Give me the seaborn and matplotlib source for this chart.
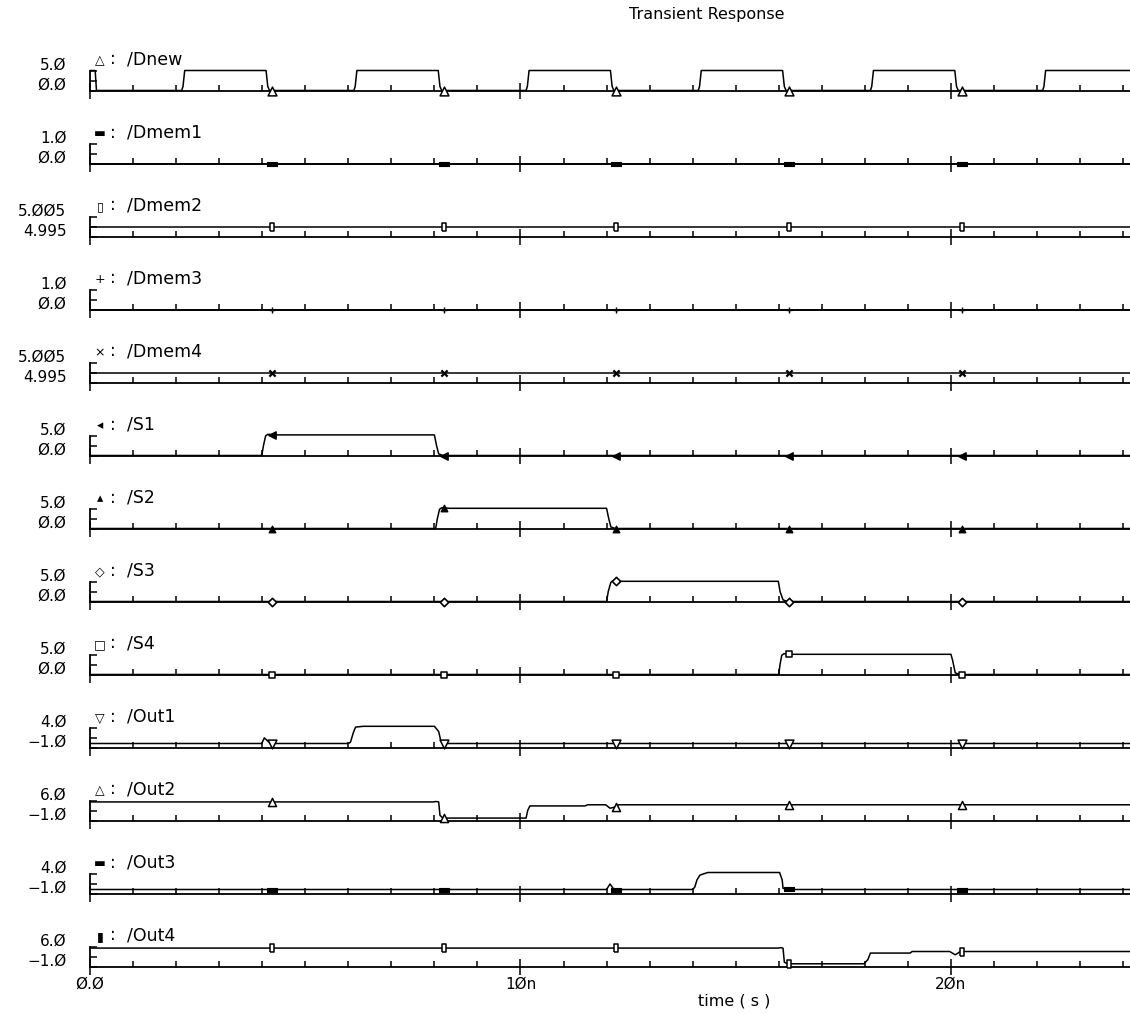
import numpy as np
import pandas as pd
import seaborn as sns
import matplotlib
matplotlib.use("Agg")
import matplotlib.pyplot as plt
from matplotlib.ticker import MultipleLocator, FixedLocator
from matplotlib.transforms import ScaledTranslation

# ---------------- data (time in ns, values in V) ----------------
T_END = 24.16
marker_times = [4.22, 8.22, 12.23, 16.23, 20.25]

Dnew_t = [0.0, 0.12, 0.15, 2.13, 2.16, 2.20, 4.09, 4.13, 4.17, 6.13, 6.16, 6.20,
          8.09, 8.13, 8.17, 10.13, 10.16, 10.20, 12.09, 12.13, 12.17, 14.13, 14.16, 14.20,
          16.09, 16.13, 16.17, 18.13, 18.16, 18.20, 20.09, 20.13, 20.17, 22.13, 22.16, 22.20, 24.16]
Dnew_v = [5.0, 5.0, 0.0, 0.0, 1.0, 5.0, 5.0, 1.0, 0.0, 0.0, 1.0, 5.0,
          5.0, 1.0, 0.0, 0.0, 1.0, 5.0, 5.0, 1.0, 0.0, 0.0, 1.0, 5.0,
          5.0, 1.0, 0.0, 0.0, 1.0, 5.0, 5.0, 1.0, 0.0, 0.0, 1.0, 5.0, 5.0]
Dnew_m = [0.0, 0.0, 0.0, 0.0, 0.0]

Dmem1_t = [0.0, 24.16]
Dmem1_v = [0.0, 0.0]
Dmem1_m = [0.0, 0.0, 0.0, 0.0, 0.0]

Dmem2_t = [0.0, 24.16]
Dmem2_v = [5.0, 5.0]
Dmem2_m = [5.0, 5.0, 5.0, 5.0, 5.0]

Dmem3_t = [0.0, 24.16]
Dmem3_v = [0.0, 0.0]
Dmem3_m = [0.0, 0.0, 0.0, 0.0, 0.0]

Dmem4_t = [0.0, 24.16]
Dmem4_v = [5.0, 5.0]
Dmem4_m = [5.0, 5.0, 5.0, 5.0, 5.0]

S1_t = [0.0, 3.99, 4.03, 4.08, 4.13, 4.30, 8.00, 8.05, 8.10, 8.20, 24.16]
S1_v = [0.0, 0.0, 2.5, 4.9, 5.3, 5.15, 5.15, 2.5, 0.4, 0.0, 0.0]
S1_m = [5.2, 0.0, 0.0, 0.0, 0.0]

S2_t = [0.0, 8.03, 8.07, 8.12, 8.17, 8.35, 12.00, 12.05, 12.10, 12.20, 24.16]
S2_v = [0.0, 0.0, 2.5, 4.8, 5.2, 5.05, 5.05, 2.5, 0.4, 0.0, 0.0]
S2_m = [0.0, 5.1, 0.0, 0.0, 0.0]

S3_t = [0.0, 12.00, 12.04, 12.10, 12.15, 12.35, 15.99, 16.03, 16.10, 16.20, 24.16]
S3_v = [0.0, 0.0, 2.5, 4.8, 5.2, 5.05, 5.05, 2.5, 0.4, 0.0, 0.0]
S3_m = [0.0, 0.0, 5.1, 0.0, 0.0]

S4_t = [0.0, 16.00, 16.03, 16.07, 16.12, 16.30, 20.00, 20.04, 20.10, 20.20, 24.16]
S4_v = [0.0, 0.0, 2.5, 4.8, 5.2, 5.05, 5.05, 3.5, 0.4, 0.0, 0.0]
S4_m = [0.0, 0.0, 0.0, 5.1, 0.0]

Out1_t = [0.0, 3.99, 4.05, 4.13, 4.20, 6.00, 6.05, 6.12, 6.17, 6.35, 8.00, 8.10, 8.15, 8.22, 24.16]
Out1_v = [0.0, 0.0, 1.4, 0.6, 0.0, 0.0, 0.3, 2.8, 4.1, 4.3, 4.3, 3.0, 0.6, 0.0, 0.0]
Out1_m = [0.0, 0.0, 0.0, 0.0, 0.0]

Out2_t = [0.0, 7.98, 8.04, 8.10, 8.13, 8.20, 10.13, 10.17, 10.22, 11.50, 11.56, 11.98, 12.08, 12.20, 12.28, 24.16]
Out2_v = [5.5, 5.5, 5.65, 5.5, 0.8, -0.15, -0.15, 2.6, 4.1, 4.1, 4.5, 4.5, 3.3, 3.7, 4.5, 4.5]
Out2_m = [5.5, -0.15, 3.7, 4.5, 4.5]

Out3_t = [0.0, 12.00, 12.08, 12.15, 12.25, 14.00, 14.05, 14.10, 14.17, 14.35, 16.02, 16.08, 16.10, 16.20, 24.16]
Out3_v = [0.0, 0.0, 1.4, 0.3, 0.0, 0.0, 0.6, 2.4, 3.6, 4.25, 4.25, 2.4, 0.3, 0.0, 0.0]
Out3_m = [0.0, 0.0, 0.0, 0.2, 0.0]

Out4_t = [0.0, 15.98, 16.05, 16.10, 16.13, 16.20, 17.98, 18.07, 18.13, 19.05, 19.10, 19.97, 20.10, 20.22, 24.16]
Out4_v = [5.45, 5.45, 5.6, 5.4, 0.5, -0.05, -0.05, 1.4, 3.7, 3.7, 4.25, 4.25, 3.1, 4.25, 4.25]
Out4_m = [5.45, 5.45, 5.45, -0.05, 4.25]

signal_names = ["/Dnew", "/Dmem1", "/Dmem2", "/Dmem3", "/Dmem4", "/S1", "/S2", "/S3", "/S4",
                "/Out1", "/Out2", "/Out3", "/Out4"]
signal_symbols = ["△", "▬", "▯", "+", "×", "◂", "▴", "◇", "□", "▽", "△", "▬", "▮"]
y_limits = [(0.0, 5.0), (0.0, 1.0), (4.995, 5.005), (0.0, 1.0), (4.995, 5.005),
            (0.0, 5.0), (0.0, 5.0), (0.0, 5.0), (0.0, 5.0),
            (-1.0, 4.0), (-1.0, 6.0), (-1.0, 4.0), (-1.0, 6.0)]
y_tick_labels = [("Ø.Ø", "5.Ø"), ("Ø.Ø", "1.Ø"), ("4.995", "5.ØØ5"), ("Ø.Ø", "1.Ø"), ("4.995", "5.ØØ5"),
                 ("Ø.Ø", "5.Ø"), ("Ø.Ø", "5.Ø"), ("Ø.Ø", "5.Ø"), ("Ø.Ø", "5.Ø"),
                 ("−1.Ø", "4.Ø"), ("−1.Ø", "6.Ø"), ("−1.Ø", "4.Ø"), ("−1.Ø", "6.Ø")]
x_tick_values = [0, 10, 20]
x_tick_labels = ["Ø.Ø", "1Øn", "2Øn"]

series_t = [Dnew_t, Dmem1_t, Dmem2_t, Dmem3_t, Dmem4_t, S1_t, S2_t, S3_t, S4_t, Out1_t, Out2_t, Out3_t, Out4_t]
series_v = [Dnew_v, Dmem1_v, Dmem2_v, Dmem3_v, Dmem4_v, S1_v, S2_v, S3_v, S4_v, Out1_v, Out2_v, Out3_v, Out4_v]
series_m = [Dnew_m, Dmem1_m, Dmem2_m, Dmem3_m, Dmem4_m, S1_m, S2_m, S3_m, S4_m, Out1_m, Out2_m, Out3_m, Out4_m]

# ---------------- marker styles ----------------
dash = [(-1, -0.35), (1, -0.35), (1, 0.35), (-1, 0.35), (-1, -0.35)]
tallrect = [(-0.45, -1), (0.45, -1), (0.45, 1), (-0.45, 1), (-0.45, -1)]
marker_styles = [
    dict(marker="^", s=40, color="white", edgecolor="black", linewidth=1.1),
    dict(marker=dash, s=60, color="black", edgecolor="black", linewidth=0.8),
    dict(marker=tallrect, s=40, color="white", edgecolor="black", linewidth=1.1),
    dict(marker="+", s=25, color="black", linewidth=1.0),
    dict(marker="x", s=20, color="black", linewidth=1.6),
    dict(marker="<", s=28, color="black", edgecolor="black", linewidth=1.0),
    dict(marker="^", s=22, color="black", edgecolor="black", linewidth=1.0),
    dict(marker="D", s=18, color="white", edgecolor="black", linewidth=1.2),
    dict(marker="s", s=22, color="white", edgecolor="black", linewidth=1.1),
    dict(marker="v", s=40, color="white", edgecolor="black", linewidth=1.1),
    dict(marker="^", s=34, color="white", edgecolor="black", linewidth=1.1),
    dict(marker=dash, s=60, color="black", edgecolor="black", linewidth=0.8),
    dict(marker=tallrect, s=40, color="white", edgecolor="black", linewidth=1.1),
]

# ---------------- figure ----------------
sns.set_theme(style="white")
plt.rcParams["font.family"] = ["DejaVu Sans"]
plt.rcParams["axes.unicode_minus"] = True
plt.rcParams["text.color"] = "black"

W, H = 1130, 1014
fig = plt.figure(figsize=(W / 100, H / 100), dpi=100)
fig.patch.set_facecolor("white")

X0, X1 = 90, 1130
AXIS_Y0 = 90.5
STEP = 73.0
PANEL_H = 20.0
n = len(signal_names)

for i in range(n):
    yb = AXIS_Y0 + STEP * i
    ax = fig.add_axes([X0 / W, 1 - yb / H, (X1 - X0) / W, PANEL_H / H])
    ax.set_facecolor("none")
    lo, hi = y_limits[i]

    sns.lineplot(x=series_t[i], y=series_v[i], ax=ax, sort=False, estimator=None,
                 color="black", linewidth=1.1)
    for ln in ax.lines:
        ln.set_clip_on(False)
    sns.scatterplot(x=marker_times, y=series_m[i], ax=ax, zorder=5, clip_on=False,
                    legend=False, **marker_styles[i])

    ax.set_xlim(0, T_END)
    ax.set_ylim(lo, hi)
    ax.set_xlabel("")
    ax.set_ylabel("")

    for side in ["top", "right"]:
        ax.spines[side].set_visible(False)
    for side in ["left", "bottom"]:
        ax.spines[side].set_visible(True)
        ax.spines[side].set_color("black")
        ax.spines[side].set_linewidth(1.3)

    # x ticks
    ax.xaxis.set_major_locator(FixedLocator(x_tick_values))
    ax.xaxis.set_minor_locator(MultipleLocator(1))
    ax.tick_params(axis="x", which="major", direction="inout", length=11, width=1.1,
                   color="black", bottom=True, labelsize=11, pad=2, labelcolor="black")
    ax.tick_params(axis="x", which="minor", direction="in", length=4, width=1.1,
                   color="black", bottom=True)
    if i == n - 1:
        ax.set_xticklabels(x_tick_labels)
    else:
        ax.tick_params(axis="x", labelbottom=False)

    # y ticks (the "E" bracket)
    mid = (lo + hi) / 2
    ax.set_yticks([lo, mid, hi])
    ax.set_yticklabels([y_tick_labels[i][0], "", y_tick_labels[i][1]])
    ax.tick_params(axis="y", which="major", direction="in", length=5, width=1.1,
                   color="black", left=True, labelsize=11, pad=17, labelcolor="black")
    for lab in ax.get_yticklabels():
        lab.set_transform(lab.get_transform() + ScaledTranslation(0, 7 / 100, fig.dpi_scale_trans))

    # signal label
    base = yb - 26
    fig.text(100 / W, 1 - base / H, signal_symbols[i], ha="center", va="baseline",
             fontsize=9, color="black")
    fig.text(110 / W, 1 - base / H, ":", ha="left", va="baseline", fontsize=12, color="black")
    fig.text(127 / W, 1 - base / H, signal_names[i], ha="left", va="baseline",
             fontsize=12.5, color="black")

fig.text(707 / W, 1 - 14 / H, "Transient Response", ha="center", va="center",
         fontsize=11.5, color="black")
fig.text(734 / W, 1 - 1001 / H, "time ( s )", ha="center", va="center",
         fontsize=11.5, color="black")

fig.savefig("out.png", dpi=100, facecolor="white")
